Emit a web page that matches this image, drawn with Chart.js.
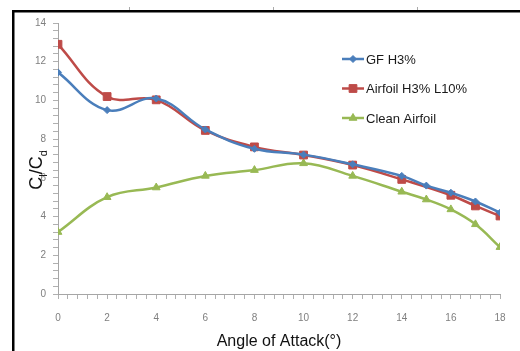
<!DOCTYPE html>
<html>
<head>
<meta charset="utf-8">
<script src="https://cdn.jsdelivr.net/npm/chart.js@4/dist/chart.umd.min.js"></script>
<style>
  body { margin: 0; background: #fff; }
  canvas { display: block; }
</style>
</head>
<body>
<canvas id="ratioChart" width="520" height="351"></canvas>
<script>
const angles = [0, 2, 4, 6, 8, 10, 12, 14, 15, 16, 17, 18];
const gfH3 = [11.45, 9.5, 10.1, 8.5, 7.5, 7.2, 6.7, 6.1, 5.6, 5.23, 4.78, 4.2];
const airfoilH3L10 = [12.9, 10.2, 10.03, 8.45, 7.6, 7.18, 6.66, 5.92, null, 5.1, 4.55, 4.03];
const cleanAirfoil = [3.2, 5.0, 5.5, 6.1, 6.4, 6.75, 6.1, 5.28, 4.88, 4.37, 3.6, 2.42];
const seriesNames = ["GF H3%", "Airfoil H3% L10%", "Clean Airfoil"];
const xTitle = "Angle of Attack(\u00b0)";

const FONT = "'Liberation Sans', Arial, sans-serif";

function points(vals) {
  return angles.map((a, i) => ({ x: a, y: vals[i] }));
}

// frame, y title with subscripts, legend
const decorations = {
  id: "decorations",
  afterDraw(chart) {
    const ctx = chart.ctx;
    ctx.save();

    ctx.fillStyle = "#000";
    ctx.fillRect(12, 10, 508, 2.5);
    ctx.fillRect(12, 10, 2.5, 341);
    ctx.fillStyle = "#aaa";
    [129, 273, 417].forEach(x => ctx.fillRect(x, 7, 1, 3));

    // y title: C_l/C_d
    ctx.translate(42, 170);
    ctx.rotate(-Math.PI / 2);
    ctx.fillStyle = "#111";
    ctx.textBaseline = "alphabetic";
    const big = "18px " + FONT, small = "11px " + FONT;
    const parts = [["C", big, 0], ["l", small, 5], ["/C", big, 0], ["d", small, 5]];
    let total = 0;
    parts.forEach(p => { ctx.font = p[1]; total += ctx.measureText(p[0]).width; });
    let x = -total / 2;
    parts.forEach(p => {
      ctx.font = p[1];
      ctx.fillText(p[0], x, p[2]);
      x += ctx.measureText(p[0]).width;
    });
    ctx.setTransform(1, 0, 0, 1, 0, 0);

    // legend
    ctx.font = "13px " + FONT;
    ctx.textBaseline = "middle";
    chart.data.datasets.forEach((ds, i) => {
      const y = 59 + i * 29.5;
      ctx.strokeStyle = ds.borderColor;
      ctx.lineWidth = 2.5;
      ctx.beginPath();
      ctx.moveTo(342, y);
      ctx.lineTo(364, y);
      ctx.stroke();
      ctx.fillStyle = ds.borderColor;
      ctx.strokeStyle = ds.borderColor;
      ctx.lineWidth = 1;
      Chart.helpers.drawPoint(ctx, {
        pointStyle: ds.pointStyle, radius: ds.pointRadius, rotation: 0, borderWidth: 1
      }, 353, y);
      ctx.fillStyle = "#1a1a1a";
      ctx.fillText(ds.label, 366, y + 1);
    });
    ctx.restore();
  }
};

new Chart(document.getElementById("ratioChart"), {
  type: "line",
  data: {
    datasets: [
      {
        label: seriesNames[0], data: points(gfH3),
        borderColor: "#4a7ebb", backgroundColor: "#4a7ebb",
        pointStyle: "rectRot", pointRadius: 3.5
      },
      {
        label: seriesNames[1], data: points(airfoilH3L10),
        borderColor: "#be4b48", backgroundColor: "#be4b48",
        pointStyle: "rect", pointRadius: 5.5, spanGaps: true
      },
      {
        label: seriesNames[2], data: points(cleanAirfoil),
        borderColor: "#98b954", backgroundColor: "#98b954",
        pointStyle: "triangle", pointRadius: 4.5
      }
    ]
  },
  options: {
    responsive: false,
    animation: false,
    layout: { padding: { left: 0, top: 23, right: 20, bottom: 0 } },
    elements: {
      line: { borderWidth: 2.5, tension: 0.4 },
      point: { borderWidth: 1, hoverRadius: 5 }
    },
    plugins: { legend: { display: false }, tooltip: { enabled: false } },
    scales: {
      x: {
        type: "linear", min: 0, max: 18,
        afterFit: s => { s.height = 57; },
        border: { color: "#a6a6a6", width: 1 },
        grid: { drawOnChartArea: false, color: "#b0b0b0", tickLength: 5 },
        ticks: {
          stepSize: 0.4, autoSkip: false, maxRotation: 0, padding: 13,
          color: "#7f7f7f", font: { size: 10, family: FONT },
          callback: (v, i) => (i % 5 === 0 ? String(Math.round(v)) : "")
        },
        title: {
          display: true, text: xTitle, color: "#111",
          font: { size: 16, family: FONT }, padding: { top: 0, bottom: 0 }
        }
      },
      y: {
        min: 0, max: 14,
        afterFit: s => { s.width = 58; },
        border: { color: "#a6a6a6", width: 1 },
        grid: { drawOnChartArea: false, color: "#b0b0b0", tickLength: 5 },
        ticks: {
          stepSize: 0.4, autoSkip: false, padding: 7,
          color: "#7f7f7f", font: { size: 10, family: FONT },
          callback: (v, i) => (i % 5 === 0 ? String(Math.round(v)) : "")
        }
      }
    }
  },
  plugins: [decorations]
});
</script>
</body>
</html>
